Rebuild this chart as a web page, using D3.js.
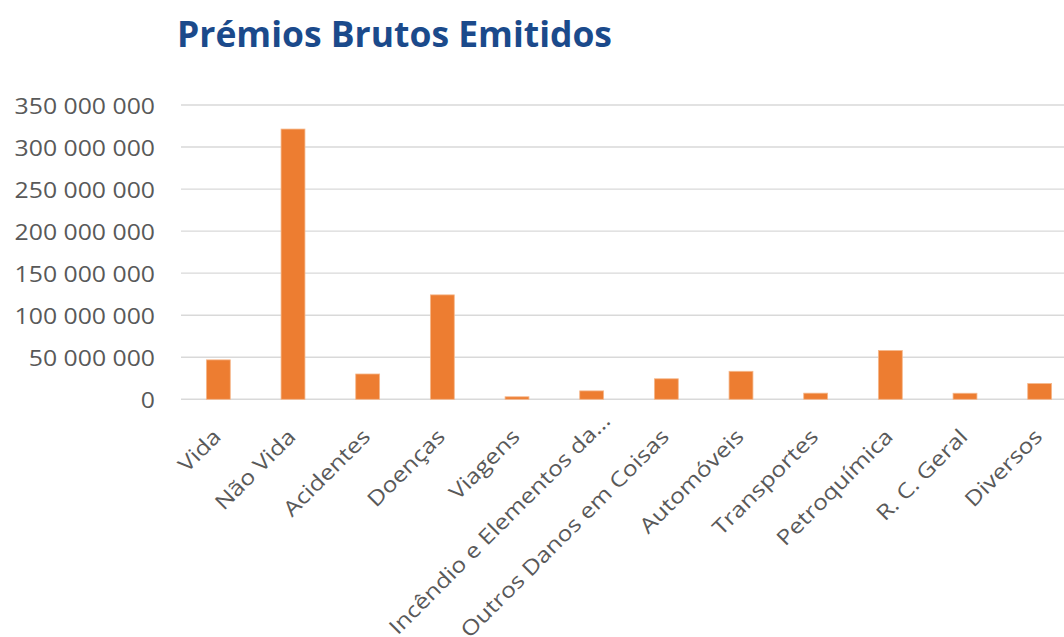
<!DOCTYPE html>
<html>
<head>
<meta charset="utf-8">
<script src="https://cdn.jsdelivr.net/npm/d3@7"></script>
<style>
  html, body { margin: 0; padding: 0; background: #ffffff; }
  svg { display: block; }
</style>
</head>
<body>
<svg id="chart" width="1064" height="637"></svg>
<script>
const title = "Prémios Brutos Emitidos";
const categories = ["Vida", "Não Vida", "Acidentes", "Doenças", "Viagens",
  "Incêndio e Elementos da…", "Outros Danos em Coisas", "Automóveis",
  "Transportes", "Petroquímica", "R. C. Geral", "Diversos"];
const values = [46900000, 321400000, 30100000, 124200000, 3000000,
  10000000, 24400000, 33300000, 7300000, 58000000, 7200000, 18700000];
const yTicks = [0, 50000000, 100000000, 150000000, 200000000, 250000000, 300000000, 350000000];

const W = 1064, H = 637;
const plot = { left: 181, right: 1077, top: 105, bottom: 399.3 };
const stretch = 1.18;

const svg = d3.select("#chart");

const x = d3.scaleBand()
  .domain(categories)
  .range([plot.left, plot.right])
  .paddingInner(0.68)
  .paddingOuter(0.34);

const y = d3.scaleLinear()
  .domain([0, 350000000])
  .range([plot.bottom, plot.top]);

const locale = d3.formatLocale({ decimal: ",", thousands: " ", grouping: [3], currency: ["", "€"] });
const fmt = locale.format(",d");

function widen(sel, factor) {
  sel.each(function () {
    const len = this.getComputedTextLength();
    d3.select(this).attr("textLength", len * factor).attr("lengthAdjust", "spacingAndGlyphs");
  });
}

// gridlines
svg.append("g")
  .selectAll("line")
  .data(yTicks)
  .join("line")
  .attr("x1", plot.left)
  .attr("x2", plot.right)
  .attr("y1", d => y(d))
  .attr("y2", d => y(d))
  .attr("stroke", "#d9d9d9")
  .attr("stroke-width", 1.4);

// y tick labels
const yLab = svg.append("g")
  .selectAll("text")
  .data(yTicks)
  .join("text")
  .attr("x", 155)
  .attr("y", d => y(d) + 8.5)
  .attr("text-anchor", "end")
  .attr("font-family", "'Open Sans', sans-serif")
  .attr("font-size", 21)
  .attr("fill", "#595959")
  .text(d => fmt(d));
widen(yLab, stretch);

// bars
svg.append("g")
  .selectAll("rect")
  .data(categories.map((c, i) => ({ c, v: values[i] })))
  .join("rect")
  .attr("x", d => x(d.c))
  .attr("width", x.bandwidth())
  .attr("y", d => y(d.v))
  .attr("height", d => y(0) - y(d.v))
  .attr("fill", "#ed7d31")
  .attr("stroke", "#f5b88c")
  .attr("stroke-width", 0.8);

// x labels (truncated labels sit a little further along the diagonal, as in the original)
const xLab = svg.append("g")
  .selectAll("text")
  .data(categories)
  .join("text")
  .attr("transform", d => {
    const shift = d.endsWith("…") ? 16 : 0;
    return `translate(${x(d) + x.bandwidth() / 2 + 4 + shift},${438 - shift}) rotate(-45)`;
  })
  .attr("text-anchor", "end")
  .attr("font-family", "'Open Sans', sans-serif")
  .attr("font-size", 21)
  .attr("fill", "#595959")
  .text(d => d);
widen(xLab, stretch);

// title
const t = svg.append("text")
  .attr("x", 177)
  .attr("y", 47)
  .attr("font-family", "'Open Sans', sans-serif")
  .attr("font-weight", 700)
  .attr("font-size", 35)
  .attr("fill", "#1b4a8b")
  .text(title);
t.attr("textLength", 435).attr("lengthAdjust", "spacingAndGlyphs");
</script>
</body>
</html>
